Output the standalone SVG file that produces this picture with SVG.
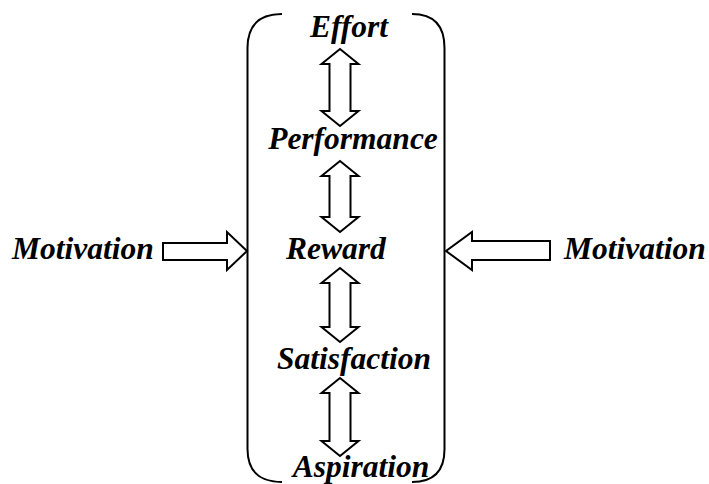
<svg xmlns="http://www.w3.org/2000/svg" width="709" height="484" viewBox="0 0 709 484">
<style>
.t{font-family:"Liberation Serif","Times New Roman",serif;font-weight:bold;font-style:italic;font-size:31.5px;fill:#000}
.s{fill:#fff;stroke:#000;stroke-width:2;stroke-linejoin:miter}
.b{fill:none;stroke:#000;stroke-width:2}
</style>
<rect width="709" height="484" fill="#fff"/>
<g id="bracket">
<path class="b" d="M282 14 Q247.5 14 247.5 48 L247.5 449 Q247.5 482 282 482"/>
<path class="b" d="M412 14 Q444.5 14 444.5 48 L444.5 449 Q444.5 482 412 482"/>
</g>
<g id="connectors">
<polygon class="s" points="340,49 358.5,64 350.5,64 350.5,111 358.5,111 340,126 321.5,111 329.5,111 329.5,64 321.5,64"/>
<polygon class="s" points="340,161 358.5,176 350.5,176 350.5,217 358.5,217 340,232 321.5,217 329.5,217 329.5,176 321.5,176"/>
<polygon class="s" points="340,268 358.5,283 350.5,283 350.5,327 358.5,327 340,342 321.5,327 329.5,327 329.5,283 321.5,283"/>
<polygon class="s" points="340,378 358.5,393 350.5,393 350.5,441 358.5,441 340,456 321.5,441 329.5,441 329.5,393 321.5,393"/>
<polygon class="s" points="163,243 227,243 227,232 247,251 227,270 227,260 163,260"/>
<polygon class="s" points="550,241 472,241 472,232 446,251 472,270 472,260 550,260"/>
</g>
<g id="effort"><text class="t" x="349" y="37" text-anchor="middle">Effort</text></g>
<g id="performance"><text class="t" x="353" y="149" text-anchor="middle">Performance</text></g>
<g id="reward"><text class="t" x="336" y="259" text-anchor="middle">Reward</text></g>
<g id="satisfaction"><text class="t" x="354" y="369" text-anchor="middle">Satisfaction</text></g>
<g id="aspiration"><text class="t" x="361" y="477" text-anchor="middle">Aspiration</text></g>
<g id="motivation-left"><text class="t" x="83" y="259" text-anchor="middle">Motivation</text></g>
<g id="motivation-right"><text class="t" x="635" y="259" text-anchor="middle">Motivation</text></g>
</svg>
